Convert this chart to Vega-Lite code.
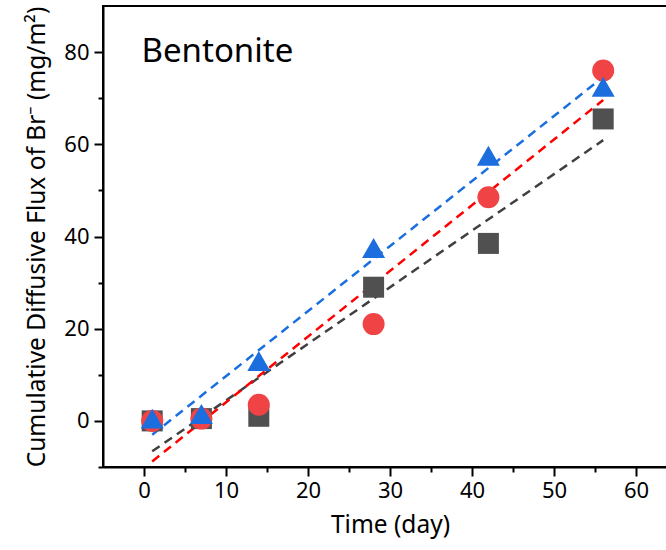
{
  "$schema": "https://vega.github.io/schema/vega-lite/v6.json",
  "width": 574,
  "height": 461,
  "autosize": "none",
  "padding": {"left": 103, "top": 6, "right": 0, "bottom": 83},
  "background": "white",
  "config": {
    "view": {"stroke": "black", "strokeWidth": 2},
    "font": "Noto Sans",
    "axis": {"grid": false, "domainColor": "black", "domainWidth": 2, "tickColor": "black", "tickWidth": 2, "labelColor": "black", "titleColor": "black", "labelFont": "Noto Sans", "titleFont": "Noto Sans", "titleFontWeight": "normal", "labelFontSize": 22, "titleFontSize": 24.5}
  },
  "datasets": {
    "points": [
      {"series": "sq", "day": 1, "flux": 0},
      {"series": "sq", "day": 7, "flux": 0.5},
      {"series": "sq", "day": 14, "flux": 1},
      {"series": "sq", "day": 28, "flux": 29},
      {"series": "sq", "day": 42, "flux": 38.5},
      {"series": "sq", "day": 56, "flux": 65.5},
      {"series": "ci", "day": 1, "flux": 0},
      {"series": "ci", "day": 7, "flux": 0.5},
      {"series": "ci", "day": 14, "flux": 3.5},
      {"series": "ci", "day": 28, "flux": 21},
      {"series": "ci", "day": 42, "flux": 48.5},
      {"series": "ci", "day": 56, "flux": 76},
      {"series": "tr", "day": 1, "flux": 0.5},
      {"series": "tr", "day": 7, "flux": 1.5},
      {"series": "tr", "day": 14, "flux": 13},
      {"series": "tr", "day": 28, "flux": 37.5},
      {"series": "tr", "day": 42, "flux": 57.5},
      {"series": "tr", "day": 56, "flux": 72.5}
    ],
    "fits": [
      {"series": "sq", "day": 1, "flux": -6.6},
      {"series": "sq", "day": 56, "flux": 60.9},
      {"series": "ci", "day": 1, "flux": -8.8},
      {"series": "ci", "day": 56, "flux": 69.6},
      {"series": "tr", "day": 1, "flux": -3.0},
      {"series": "tr", "day": 56, "flux": 74.6}
    ],
    "label": [{"name": "Bentonite"}]
  },
  "resolve": {"axis": {"x": "independent", "y": "independent"}},
  "layer": [
    {
      "data": {"name": "fits"},
      "mark": {"type": "line", "strokeWidth": 2.5, "strokeDash": [9, 6], "clip": true},
      "encoding": {
        "x": {"field": "day", "type": "quantitative", "scale": {"domain": [-5, 65], "nice": false, "zero": false},
              "axis": {"orient": "bottom", "values": [5, 15, 25, 35, 45, 55, 65], "labels": false, "domain": false, "tickSize": 5, "title": null}},
        "y": {"field": "flux", "type": "quantitative", "scale": {"domain": [-10, 90], "nice": false, "zero": false},
              "axis": {"orient": "left", "values": [-10, 10, 30, 50, 70], "labels": false, "domain": false, "tickSize": 5, "title": null}},
        "detail": {"field": "series"},
        "stroke": {"field": "series", "type": "nominal", "scale": {"domain": ["sq", "ci", "tr"], "range": ["#404040", "#ff0000", "#1a6fe0"]}, "legend": null}
      }
    },
    {
      "data": {"name": "points"},
      "mark": {"type": "point", "filled": true, "opacity": 1, "strokeWidth": 0},
      "encoding": {
        "x": {"field": "day", "type": "quantitative",
              "axis": {"orient": "bottom", "values": [0, 10, 20, 30, 40, 50, 60], "tickSize": 9, "labelPadding": 4, "title": "Time (day)", "titlePadding": 12}},
        "y": {"field": "flux", "type": "quantitative",
              "axis": {"orient": "left", "values": [0, 20, 40, 60, 80], "tickSize": 9, "labelPadding": 5, "title": "Cumulative Diffusive Flux of Br⁻ (mg/m²)", "titlePadding": 14}},
        "fill": {"field": "series", "type": "nominal", "scale": {"domain": ["sq", "ci", "tr"], "range": ["#505050", "#f04346", "#1c6ede"]}, "legend": null},
        "shape": {"field": "series", "type": "nominal", "scale": {"domain": ["sq", "ci", "tr"], "range": ["square", "circle", "triangle-up"]}, "legend": null},
        "size": {"field": "series", "type": "nominal", "scale": {"domain": ["sq", "ci", "tr"], "range": [441, 529, 720]}, "legend": null}
      }
    },
    {
      "data": {"name": "label"},
      "mark": {"type": "text", "fontSize": 33, "align": "left", "baseline": "middle", "color": "black", "font": "Noto Sans"},
      "encoding": {
        "text": {"field": "name"},
        "x": {"datum": -0.3, "type": "quantitative", "axis": null},
        "y": {"datum": 80, "type": "quantitative", "axis": null}
      }
    }
  ]
}
